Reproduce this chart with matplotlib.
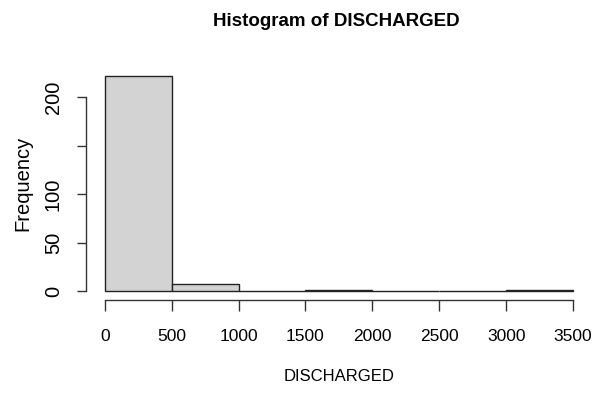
import matplotlib
matplotlib.use('Agg')
import matplotlib.pyplot as plt
import numpy as np

plt.rcParams['font.family'] = ['Liberation Sans', 'DejaVu Sans']

# histogram bins of DISCHARGED and their counts
bin_edges = [0, 500, 1000, 1500, 2000, 2500, 3000, 3500]
counts = [222, 8, 0, 1, 0, 0, 1]
x_ticks = [0, 500, 1000, 1500, 2000, 2500, 3000, 3500]
y_ticks = [0, 50, 100, 150, 200]
y_labels = ['0', '50', '100', '', '200']

fig = plt.figure(figsize=(6.08, 4.0), dpi=100, facecolor='w')
ax = fig.add_axes([0.1414, 0.25, 0.832, 0.5825])

left = np.array(bin_edges[:-1])
width = np.diff(bin_edges)
ax.bar(left, counts, width=width, align='edge', color='#D3D3D3',
       edgecolor='#222222', linewidth=1.0)

# R style axis: 4% padding, axis lines only over the tick range
xpad = 0.04 * (bin_edges[-1] - bin_edges[0])
ypad = 0.04 * max(counts)
ax.set_xlim(bin_edges[0] - xpad, bin_edges[-1] + xpad)
ax.set_ylim(-ypad, max(counts) + ypad)

for s in ['top', 'right']:
    ax.spines[s].set_visible(False)
ax.spines['left'].set_bounds(0, 200)
ax.spines['bottom'].set_bounds(0, 3500)
for s in ['left', 'bottom']:
    ax.spines[s].set_color('#333333')
    ax.spines[s].set_linewidth(1.0)

ax.set_xticks(x_ticks)
ax.set_xticklabels([str(t) for t in x_ticks])
ax.set_yticks(y_ticks)
ax.set_yticklabels(y_labels, rotation=90, va='center')
ax.tick_params(axis='x', length=8, width=1, color='#333333', labelsize=12.5, pad=13)
ax.tick_params(axis='y', length=6.7, width=1, color='#333333', labelsize=14.5, pad=10)

ax.set_xlabel('DISCHARGED', fontsize=12, labelpad=18)
ax.set_ylabel('Frequency', fontsize=14.5, labelpad=8)
fig.text(0.553, 0.946, 'Histogram of DISCHARGED', ha='center', va='center',
         fontsize=13.5, fontweight='bold')

fig.savefig('out.png', dpi=100)
